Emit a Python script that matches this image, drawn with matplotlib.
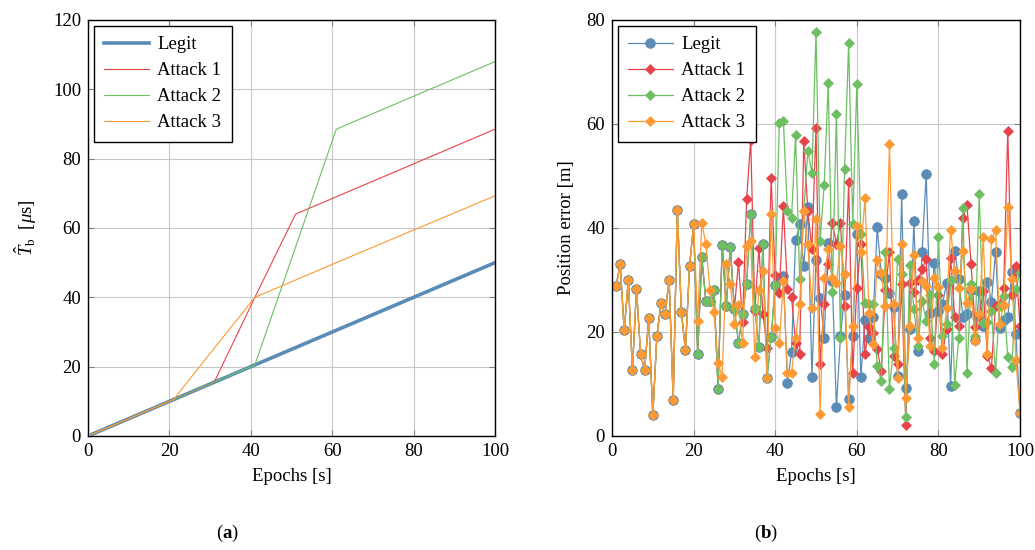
import matplotlib
matplotlib.use("Agg")
import matplotlib.pyplot as plt

plt.rcParams['font.family'] = ['Liberation Serif', 'DejaVu Serif']
plt.rcParams['mathtext.fontset'] = 'custom'
plt.rcParams['mathtext.rm'] = 'Liberation Serif'
plt.rcParams['mathtext.it'] = 'Liberation Serif:italic'
plt.rcParams['mathtext.bf'] = 'Liberation Serif:bold'

# ---------------- data: panel (a) clock bias (piecewise linear breakpoints)
bp_epochs = [1, 21, 31, 41, 51, 61, 100]
tb_legit = [0.5, 10.5, 15.5, 20.5, 25.5, 30.5, 50.0]
tb_attack1 = [0.5, 10.5, 15.5, 40.0, 64.0, 69.0, 88.5]
tb_attack2 = [0.5, 10.5, 15.5, 20.5, 54.5, 88.5, 108.0]
tb_attack3 = [0.5, 10.5, 25.3, 40.0, 45.0, 50.0, 69.3]

# ---------------- data: panel (b) position error
epochs = list(range(1, 101))
pe_legit = [28.8, 33.0, 20.3, 30.0, 12.7, 28.3, 15.8, 12.7, 22.6, 4.0,
            19.2, 25.6, 23.4, 30.0, 6.9, 43.5, 23.8, 16.5, 32.6, 40.7,
            15.8, 34.4, 26.0, 26.0, 28.0, 9.0, 36.7, 25.0, 36.4, 24.4,
            17.9, 23.5, 29.3, 42.6, 24.4, 17.1, 36.9, 11.1, 19.0, 29.0,
            30.2, 30.8, 10.1, 16.2, 37.6, 40.7, 32.7, 44.0, 11.3, 33.8,
            26.6, 18.9, 37.2, 29.8, 5.5, 19.2, 27.2, 7.1, 19.2, 38.8,
            11.3, 22.4, 18.9, 22.8, 40.1, 31.1, 30.4, 27.5, 24.8, 11.5,
            46.5, 9.3, 20.5, 41.3, 16.3, 35.4, 50.3, 23.7, 33.3, 24.0,
            25.3, 29.5, 9.6, 35.6, 30.1, 22.9, 23.4, 28.0, 18.4, 27.9,
            21.2, 29.6, 25.8, 35.4, 20.8, 22.4, 22.8, 31.5, 19.6, 4.5]
pe_attack1 = [28.8, 33.0, 20.3, 30.0, 12.7, 28.3, 15.8, 12.7, 22.6, 4.0,
              19.2, 25.6, 23.4, 30.0, 6.9, 43.5, 23.8, 16.5, 32.6, 40.7,
              15.8, 34.4, 26.0, 26.0, 28.0, 9.0, 36.7, 25.0, 36.4, 24.4,
              33.5, 22.0, 45.6, 57.0, 24.0, 36.2, 23.4, 17.0, 49.7, 31.0,
              27.5, 44.2, 28.2, 26.7, 17.9, 15.8, 56.7, 43.3, 36.0, 59.3,
              13.8, 25.4, 33.0, 41.0, 37.0, 41.0, 25.0, 48.8, 12.2, 28.5,
              36.9, 15.7, 21.0, 19.9, 16.7, 12.5, 28.0, 35.3, 15.4, 13.8,
              29.2, 2.2, 29.5, 27.6, 30.0, 32.1, 34.0, 18.9, 16.3, 27.2,
              15.8, 20.5, 34.3, 22.8, 21.2, 42.0, 44.5, 33.1, 21.0, 23.1,
              27.9, 15.4, 13.1, 25.0, 25.3, 28.4, 58.7, 27.2, 32.7, 21.2]
pe_attack2 = [28.8, 33.0, 20.3, 30.0, 12.7, 28.3, 15.8, 12.7, 22.6, 4.0,
              19.2, 25.6, 23.4, 30.0, 6.9, 43.5, 23.8, 16.5, 32.6, 40.7,
              15.8, 34.4, 26.0, 26.0, 28.0, 9.0, 36.7, 25.0, 36.4, 24.4,
              17.9, 23.5, 29.3, 42.6, 24.4, 17.1, 36.9, 11.1, 19.0, 29.0,
              60.1, 60.6, 43.3, 42.0, 57.8, 30.1, 43.3, 54.8, 50.6, 77.6,
              37.5, 48.2, 67.9, 27.6, 62.0, 18.9, 51.3, 75.6, 40.8, 67.6,
              38.8, 25.6, 25.3, 25.3, 13.5, 10.6, 35.3, 9.0, 17.0, 34.1,
              31.2, 3.7, 32.9, 24.4, 17.3, 26.0, 22.2, 27.2, 13.9, 38.3,
              19.2, 21.5, 30.0, 9.9, 18.9, 43.9, 12.2, 29.2, 19.2, 46.6,
              21.8, 22.0, 24.0, 12.2, 25.0, 27.0, 15.1, 13.3, 28.2, 31.4]
pe_attack3 = [28.8, 33.0, 20.3, 30.0, 12.7, 28.3, 15.8, 12.7, 22.6, 4.0,
              19.2, 25.6, 23.4, 30.0, 6.9, 43.5, 23.8, 16.5, 32.6, 40.7,
              22.1, 41.0, 37.0, 28.1, 23.8, 14.1, 11.4, 33.1, 29.2, 21.5,
              25.1, 17.9, 36.5, 37.5, 15.1, 28.0, 31.7, 11.1, 42.6, 20.8,
              17.9, 29.8, 12.2, 12.2, 18.9, 25.4, 43.3, 37.0, 24.7, 41.7,
              4.2, 30.3, 35.9, 30.4, 29.5, 36.5, 31.2, 5.6, 21.2, 40.4,
              35.3, 45.8, 23.7, 17.6, 33.8, 31.4, 25.0, 56.1, 25.4, 11.2,
              36.9, 7.4, 21.2, 34.9, 18.9, 29.8, 28.8, 17.3, 30.4, 28.7,
              17.0, 24.7, 39.7, 31.7, 28.5, 35.6, 25.6, 28.2, 18.3, 23.4,
              38.3, 15.7, 37.8, 39.7, 21.5, 25.2, 44.0, 30.1, 14.7, 4.5]

series_names = ['Legit', 'Attack 1', 'Attack 2', 'Attack 3']
colors = ['#5b8cb8', '#e8434b', '#6dbf62', '#fd9a33']

FS = 13.5

fig = plt.figure(figsize=(10.35, 5.5), dpi=100)
W, H = 1035, 550
axA = fig.add_axes([88 / W, (H - 436) / H, 407 / W, 416 / H])
axB = fig.add_axes([612 / W, (H - 436) / H, 408 / W, 416 / H])


def style(ax):
    ax.grid(True, color='#c8c8c8', linewidth=0.8)
    ax.set_axisbelow(True)
    ax.tick_params(direction='in', top=True, right=True, length=4,
                   color='#808080', labelsize=FS, pad=5)
    for s in ax.spines.values():
        s.set_linewidth(1.0)
        s.set_color('black')


def legend(ax):
    leg = ax.legend(loc='upper left', fontsize=FS, fancybox=False,
                    edgecolor='black', framealpha=1, handlelength=2.4,
                    borderpad=0.55, labelspacing=0.48, handletextpad=0.45,
                    borderaxespad=0.3)
    leg.get_frame().set_linewidth(1.0)
    return leg


# ---- panel (a)
tb_series = [tb_legit, tb_attack1, tb_attack2, tb_attack3]
lws = [2.6, 0.8, 0.8, 0.8]
for name, vals, c, lw in zip(series_names, tb_series, colors, lws):
    axA.plot(bp_epochs, vals, color=c, linewidth=lw, label=name)
axA.set_xlim(0, 100)
axA.set_ylim(0, 120)
axA.set_xticks([0, 20, 40, 60, 80, 100])
axA.set_yticks([0, 20, 40, 60, 80, 100, 120])
style(axA)
axA.set_xlabel('Epochs [s]', fontsize=FS, labelpad=6)
axA.set_ylabel(r'$\hat{T}_{\mathrm{b}}$  [$\mu$s]', fontsize=FS, labelpad=10)
legend(axA)

# ---- panel (b)
pe_series = [pe_legit, pe_attack1, pe_attack2, pe_attack3]
markers = ['o', 'D', 'D', 'D']
msizes = [7.0, 5.3, 5.3, 5.3]
for name, vals, c, m, ms in zip(series_names, pe_series, colors, markers, msizes):
    axB.plot(epochs, vals, color=c, linewidth=0.9, marker=m, markersize=ms,
             markerfacecolor=c, markeredgecolor=c, markeredgewidth=0.5,
             label=name)
axB.set_xlim(0, 100)
axB.set_ylim(0, 80)
axB.set_xticks([0, 20, 40, 60, 80, 100])
axB.set_yticks([0, 20, 40, 60, 80])
style(axB)
axB.set_xlabel('Epochs [s]', fontsize=FS, labelpad=6)
axB.set_ylabel('Position error [m]', fontsize=FS, labelpad=8)
legend(axB)

fig.text(227 / W, 1 - 533 / H, r'($\mathbf{a}$)', ha='center', va='center', fontsize=FS)
fig.text(766 / W, 1 - 533 / H, r'($\mathbf{b}$)', ha='center', va='center', fontsize=FS)

fig.savefig('out.png', dpi=100)
